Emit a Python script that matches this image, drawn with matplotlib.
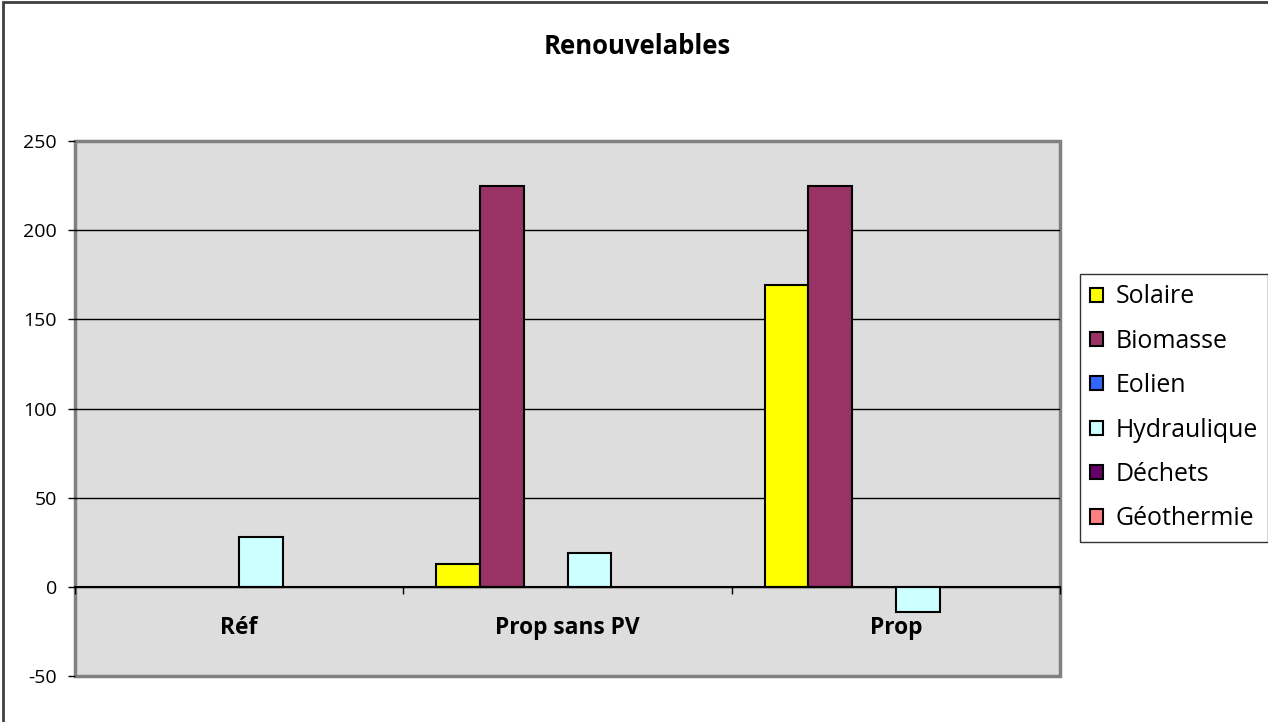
import matplotlib.pyplot as plt
import matplotlib.patches as mpatches
import numpy as np

plt.rcParams['font.family'] = ['Open Sans', 'DejaVu Sans']
plt.rcParams['axes.unicode_minus'] = False

categories = ["Réf", "Prop sans PV", "Prop"]
series = ["Solaire", "Biomasse", "Eolien", "Hydraulique", "Déchets", "Géothermie"]
colors = ["#FFFF00", "#993366", "#3366FF", "#CCFFFF", "#660066", "#FF8080"]

# values per series, one number per category (0 = empty)
solaire = [0, 13, 169]
biomasse = [0, 225, 225]
eolien = [0, 0, 0]
hydraulique = [28, 19, -14]
dechets = [0, 0, 0]
geothermie = [0, 0, 0]
values = [solaire, biomasse, eolien, hydraulique, dechets, geothermie]

fig = plt.figure(figsize=(12.68, 7.22), dpi=100)
ax = fig.add_axes([75 / 1268, 1 - 676 / 722, (1060 - 75) / 1268, (676 - 141) / 722])

# outer chart border (left and top visible)
fig.patches.append(mpatches.Rectangle((3 / 1268, -0.1), 1.2, 1.1 - 1.5 / 722,
                                      transform=fig.transFigure, fill=False,
                                      edgecolor="#404040", linewidth=2))

ax.set_facecolor("#DDDDDD")
ax.patch.set_edgecolor("#808080")
ax.patch.set_linewidth(2.5)

x = np.arange(len(categories))
w = 1 / (len(series) + 1.5)
for i, (name, vals) in enumerate(zip(series, values)):
    vals = np.array(vals, dtype=float)
    keep = vals != 0
    ax.bar(x[keep] + (i - 2.5) * w, vals[keep], w, color=colors[i],
           edgecolor="black", linewidth=1.5, zorder=3)

ax.set_xlim(-0.5, 2.5)
ax.set_ylim(-50, 250)
ax.set_yticks(np.arange(-50, 251, 50))
ax.grid(axis="y", color="black", linewidth=1)
gl = ax.yaxis.get_gridlines()
gl[0].set_visible(False)
gl[-1].set_visible(False)
ax.set_axisbelow(True)

for s in ["top", "left", "right"]:
    ax.spines[s].set_visible(False)
ax.spines["bottom"].set_position(("data", 0))
ax.spines["bottom"].set_linewidth(1.5)
ax.spines["bottom"].set_zorder(4)

ax.set_xticks(x)
ax.set_xticklabels(categories, fontsize=16.4, fontweight="bold")
ax.tick_params(axis="x", which="major", length=0, pad=21)
ax.set_xticks(np.arange(-0.5, 2.6, 1), minor=True)
ax.tick_params(axis="x", which="minor", length=5, width=1, direction="out", color="black")

ax.tick_params(axis="y", length=5, width=1, labelsize=14, pad=8, color="black")

fig.text(637 / 1268, 1 - 46 / 722, "Renouvelables", ha="center", va="center",
         fontsize=18.5, fontweight="bold")

handles = [mpatches.Patch(facecolor=c, edgecolor="black", linewidth=1.5, label=s)
           for s, c in zip(series, colors)]
leg = fig.legend(handles=handles, loc="upper left",
                 bbox_to_anchor=(1080 / 1268, 1 - 274 / 722), borderaxespad=0,
                 fontsize=17.9, frameon=True, fancybox=False, edgecolor="black",
                 handlelength=0.5, handleheight=0.5, handletextpad=0.5,
                 labelspacing=0.78, borderpad=0.42)
leg.get_frame().set_linewidth(1)

fig.savefig("out.png", dpi=100)
